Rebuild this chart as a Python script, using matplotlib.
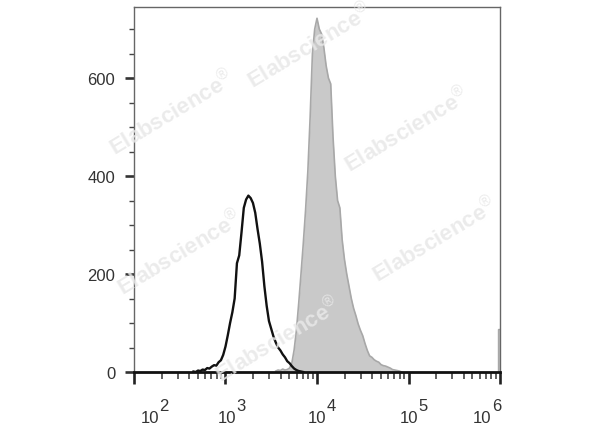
import numpy as np
import matplotlib.pyplot as plt
from matplotlib.ticker import FixedLocator, LogLocator, NullFormatter

plt.rcParams['font.family'] = ['Liberation Sans', 'DejaVu Sans']
plt.rcParams['mathtext.fontset'] = 'custom'
plt.rcParams['mathtext.rm'] = 'Liberation Sans'

# histogram channels on a log10 grid (decades)
ctrl_start = 2.65
samp_start = 3.55
bin_step = 0.025

# unstained control (black outline)
ctrl_counts = [1, 0, 3, 2, 5, 4, 8, 7, 11, 14, 13, 20, 24, 35, 52, 75, 100, 122,
               150, 222, 238, 285, 335, 352, 360, 355, 345, 325, 292, 262, 225,
               175, 135, 104, 88, 72, 60, 50, 44, 36, 30, 22, 18, 12, 7, 4, 2, 1, 0]

# stained sample (grey filled)
samp_counts = [2, 4, 3, 6, 4, 5, 8, 18, 45, 85, 140, 200, 262, 330, 410, 520, 650,
               700, 722, 700, 690, 662, 625, 600, 588, 480, 400, 350, 335, 270, 230,
               200, 175, 150, 130, 115, 98, 85, 74, 58, 44, 33, 30, 25, 22, 20, 15,
               13, 12, 10, 8, 5, 4, 3, 2, 0]

# off-scale events piled up in the last channel
edge_bin = [5.98, 6.0]
edge_count = [88]

decades = [2, 3, 4, 5, 6]
y_major = [0, 200, 400, 600]
y_minor = [50, 100, 150, 250, 300, 350, 450, 500, 550, 650, 700]


def centers(start, counts):
    return 10 ** (start + bin_step * np.arange(len(counts)))


fig = plt.figure(figsize=(6, 4.27), dpi=100)
ax = fig.add_axes([134 / 600, 1 - 373 / 427, 366 / 600, 365 / 427])

xs = centers(samp_start, samp_counts)
ax.fill_between(xs, samp_counts, color='#c9c9c9', lw=0, zorder=2)
ax.plot(xs, samp_counts, color='#a8a8a8', lw=1.2, zorder=2)
ax.stairs(edge_count, 10 ** np.array(edge_bin), fill=True, color='#c9c9c9', zorder=2)
ax.stairs(edge_count, 10 ** np.array(edge_bin), color='#a8a8a8', lw=1, zorder=2)

xc = centers(ctrl_start, ctrl_counts)
ax.plot(xc, ctrl_counts, color='#111111', lw=1.7, zorder=3)

ax.set_xscale('log')
ax.set_xlim(1e2, 1e6)
ax.set_ylim(0, 745)

# y axis (lengths in points, 1 px = 0.72 pt at 100 dpi)
ax.yaxis.set_major_locator(FixedLocator(y_major))
ax.yaxis.set_minor_locator(FixedLocator(y_minor))
ax.tick_params(axis='y', which='major', length=6.5, width=1.9, color='#333333',
               labelsize=12, labelcolor='#333333', pad=7)
ax.tick_params(axis='y', which='minor', length=3.8, width=1.0, color='#444444')

# x axis, labels drawn by hand (superscript at full size)
ax.xaxis.set_major_locator(FixedLocator([10.0 ** d for d in decades]))
ax.xaxis.set_minor_locator(LogLocator(base=10, subs=np.arange(2, 10), numticks=20))
ax.xaxis.set_major_formatter(NullFormatter())
ax.xaxis.set_minor_formatter(NullFormatter())
ax.tick_params(axis='x', which='major', length=8.6, width=1.9, color='#222222')
ax.tick_params(axis='x', which='minor', length=5, width=1.1, color='#333333')

label_shift = [25, 10.6, 9.3, 10, -8.3]
for d, sh in zip(decades, label_shift):
    ax.annotate('10', xy=(10.0 ** d, 0), xycoords=('data', 'axes fraction'),
                xytext=(sh, -50), textcoords='offset pixels', ha='right',
                va='baseline', fontsize=12, color='#333333', annotation_clip=False)
    ax.annotate(str(d), xy=(10.0 ** d, 0), xycoords=('data', 'axes fraction'),
                xytext=(sh, -38), textcoords='offset pixels', ha='left',
                va='baseline', fontsize=12, color='#333333', annotation_clip=False)

for side in ['left', 'top', 'right']:
    ax.spines[side].set_color('#666666')
    ax.spines[side].set_linewidth(1)
ax.spines['bottom'].set_color('#111111')
ax.spines['bottom'].set_linewidth(2)

# watermark
marks = [(172, 113), (310, 46), (407, 130), (435, 240), (180, 253), (278, 340)]
for px, py in marks:
    fig.text(px / 600, 1 - py / 427, r'Elabscience$^{\circledR}$', fontsize=16,
             fontweight='bold', color='#e8e8e8', alpha=0.85, rotation=31,
             ha='center', va='center', rotation_mode='anchor', zorder=10)

fig.savefig('out.png', dpi=100)
